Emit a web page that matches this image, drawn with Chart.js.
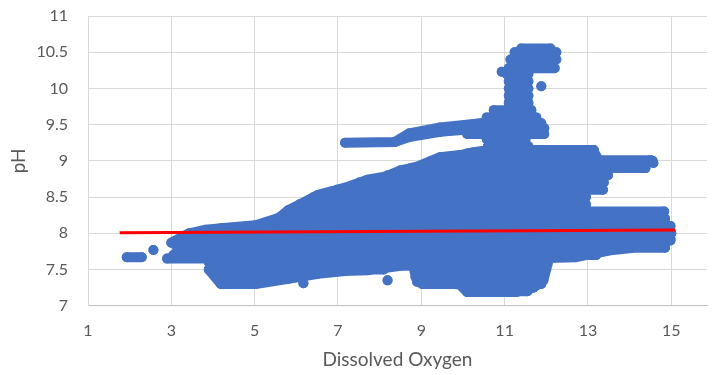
<!DOCTYPE html>
<html><head><meta charset="utf-8">
<script src="https://cdn.jsdelivr.net/npm/chart.js@4/dist/chart.umd.min.js"></script>
<style>html,body{margin:0;padding:0;background:#fff;overflow:hidden}#wrap{width:712px;height:375px;position:relative}</style>
</head><body><div id="wrap"><canvas id="c" width="712" height="375"></canvas></div>
<script>
// Dense bands of observations: each entry is one horizontal run of points (pH, DO from, DO to)
const bandPH     = [7.2, 7.3, 7.3, 7.4, 7.4, 7.5, 7.5, 7.55, 7.6, 7.65, 7.67, 7.7, 7.8, 7.9, 8.0, 8.1, 8.2, 8.3, 8.4, 8.5, 8.6, 8.7, 8.8, 8.9, 9.0, 9.1, 9.15, 9.2, 9.3, 9.37, 9.45, 9.52, 9.6, 9.7, 9.8, 9.9, 10.0, 10.1, 10.2, 10.28, 10.4, 10.5, 10.55];
const bandFromDO = [10.1, 4.24, 9.02, 4.1, 8.86, 3.9, 8.86, 8.1, 3.9, 2.9, 1.93, 3.05, 3.14, 3.15, 3.45, 4.8, 5.52, 5.77, 6.08, 6.42, 6.97, 7.51, 8.2, 8.75, 9.24, 10.1, 10.62, 10.6, 10.57, 10.1, 10.35, 10.6, 10.57, 10.74, 11.1, 11.1, 11.1, 11.1, 11.05, 11.1, 11.14, 11.24, 11.4];
const bandToDO   = [11.55, 5.02, 11.88, 6.1, 11.93, 8.1, 11.95, 8.9, 12.0, 4.02, 2.29, 13.2, 14.85, 14.98, 15.0, 14.98, 14.85, 14.83, 12.95, 12.95, 13.36, 13.38, 13.48, 14.38, 14.55, 13.14, 13.14, 11.57, 11.5, 11.95, 11.95, 11.88, 11.76, 11.64, 11.57, 11.57, 11.57, 11.57, 11.57, 12.2, 12.24, 12.24, 12.1];
// Observations along the upper edge of the main cloud
const topEdgeDO = [3.0, 3.43, 3.83, 4.19, 5.02, 5.57, 5.81, 6.52, 7.17, 7.71, 8.12, 8.5, 8.9, 9.45, 9.93, 10.26, 10.98, 11.69, 13.14, 13.26, 14.5];
const topEdgePH = [7.87, 8.0, 8.05, 8.07, 8.11, 8.21, 8.32, 8.53, 8.63, 8.74, 8.78, 8.87, 8.92, 9.05, 9.08, 9.12, 9.18, 9.13, 9.13, 9.01, 9.01];
// Observations along the lower edge of the main cloud
const lowEdgeDO = [3.9, 4.19, 5.02, 5.81, 6.52, 7.17, 7.71, 8.12, 8.5, 8.8, 8.9, 9.45, 9.93, 10.1, 11.29, 11.69, 11.93, 12.07, 12.71, 13.6, 14.79, 14.98];
const lowEdgePH = [7.5, 7.3, 7.3, 7.37, 7.44, 7.48, 7.49, 7.52, 7.55, 7.56, 7.33, 7.33, 7.29, 7.19, 7.19, 7.25, 7.35, 7.66, 7.67, 7.77, 7.84, 7.92];
// Upper branch near pH 9.2–9.5
const branchADO = [7.17, 8.36, 8.71, 9.45, 10.26, 10.69];
const branchAPH = [9.25, 9.26, 9.38, 9.46, 9.51, 9.54];
const branchBDO = [8.36, 8.71, 9.45, 10.26];
const branchBPH = [9.26, 9.33, 9.40, 9.44];
// Isolated observations
const singleDO = [2.57, 6.17, 8.19, 11.88, 10.93, 14.57, 13.31, 12.9];
const singlePH = [7.77, 7.31, 7.35, 10.03, 10.23, 8.97, 8.62, 8.43];
// Linear trendline
const trendDO = [1.76, 15.1];
const trendPH = [8.008, 8.045];
// Axes
const xTickValues = [1, 3, 5, 7, 9, 11, 13, 15];
const yTickValues = [7, 7.5, 8, 8.5, 9, 9.5, 10, 10.5, 11];
const xTitle = 'Dissolved Oxygen';
const yTitle = 'pH';

const GAP = {x: null, y: null};
const blobData = [];
bandPH.forEach((ph, i) => {
  blobData.push({x: bandFromDO[i], y: ph}, {x: bandToDO[i], y: ph}, GAP);
});
[[topEdgeDO, topEdgePH], [lowEdgeDO, lowEdgePH], [branchADO, branchAPH], [branchBDO, branchBPH]].forEach(([xs, ys]) => {
  xs.forEach((x, i) => blobData.push({x: x, y: ys[i]}));
  blobData.push(GAP);
});
singleDO.forEach((d, i) => {
  blobData.push({x: d, y: singlePH[i]}, GAP);
});

const FONT = 'Lato, "Open Sans", sans-serif';
new Chart(document.getElementById('c').getContext('2d'), {
  type: 'scatter',
  data: {
    datasets: [
      {
        label: 'Trend',
        data: trendDO.map((x, i) => ({x: x, y: trendPH[i]})),
        showLine: true, borderColor: '#FF0000', borderWidth: 3,
        pointRadius: 0, pointHoverRadius: 0, order: 0
      },
      {
        label: 'pH',
        data: blobData,
        showLine: true, spanGaps: false,
        borderColor: '#4472C4', backgroundColor: '#4472C4',
        borderWidth: 10, borderCapStyle: 'round', borderJoinStyle: 'round',
        pointRadius: 5, pointBorderWidth: 0, pointHoverRadius: 5, order: 1
      }
    ]
  },
  options: {
    responsive: false, animation: false, devicePixelRatio: 1,
    layout: {padding: {top: 16, right: 0, bottom: 0, left: 0}},
    plugins: {legend: {display: false}, tooltip: {enabled: false}},
    scales: {
      x: {
        type: 'linear', min: 1, max: 15.857,
        afterBuildTicks(s) { s.ticks = xTickValues.map(v => ({value: v})); },
        afterFit(s) { s.height = 69.3; s.paddingLeft = 0; s.paddingRight = 0; },
        ticks: {padding: 16, color: '#595959', font: {family: FONT, size: 16}, callback: v => String(v)},
        grid: {color: '#D9D9D9', drawTicks: false},
        border: {color: '#BFBFBF'},
        title: {display: true, text: xTitle, color: '#595959', font: {family: FONT, size: 19}, padding: {top: 0, bottom: 3.5}}
      },
      y: {
        type: 'linear', min: 7, max: 11,
        afterBuildTicks(s) { s.ticks = yTickValues.map(v => ({value: v})); },
        afterFit(s) { s.width = 88; s.paddingTop = 0; s.paddingBottom = 0; },
        ticks: {padding: 20, color: '#595959', font: {family: FONT, size: 16}, callback: v => String(v)},
        grid: {color: '#D9D9D9', drawTicks: false},
        border: {color: '#D9D9D9'},
        title: {display: true, text: yTitle, color: '#595959', font: {family: FONT, size: 19}, padding: {top: 7.5, bottom: 0}}
      }
    }
  }
});
</script></body></html>
